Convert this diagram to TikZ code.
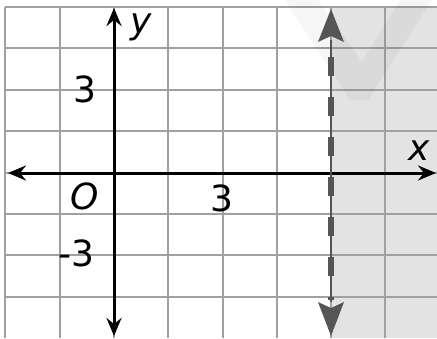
\documentclass[tikz,border=0pt]{standalone}
\usepackage{fontspec}
\setmainfont{DejaVu Sans}
\usetikzlibrary{arrows.meta}
\definecolor{gridc}{HTML}{A0A0A0}
\definecolor{shadec}{HTML}{E3E3E3}
\definecolor{dashc}{HTML}{555555}
\tikzset{
  gridline/.style={draw=gridc, line width=1.5pt},
  axis/.style={draw=black, line width=3pt, {Stealth[length=18pt,width=15pt,inset=6pt]}-{Stealth[length=18pt,width=15pt,inset=6pt]}},
  bdry/.style={draw=dashc, line width=6pt, dash pattern=on 19pt off 21pt},
  bthin/.style={draw=dashc, line width=1.2pt},
  lbl/.style={font=\fontsize{36}{42}\selectfont, inner sep=0pt},
  wm/.style={fill=black, fill opacity=0.035, draw=none}
}
\begin{document}
\begin{tikzpicture}[x=1pt,y=-1pt]
\useasboundingbox (0,0) rectangle (437,338);
\fill[white] (0,0) rectangle (437,338);
% shaded half-plane x > 6
\fill[shadec] (331,7) rectangle (437,338);
% grid
\foreach \gx in {5,60,114,168,223,277,331,385}
  \draw[gridline] (\gx,7) -- (\gx,338);
\foreach \gy in {7,48,90,131,173,214,255,297}
  \draw[gridline] (5,\gy) -- (437,\gy);
% faint watermark
\fill[wm] (285,0) -- (318,0) -- (362,62) -- (400,0) -- (432,0) -- (368,100) -- (350,100) -- cycle;
% axes
\coordinate (xl) at (8,173);
\coordinate (xr) at (436,173);
\coordinate (yt) at (114,8);
\coordinate (yb) at (114,336);
\draw[axis] (xl) -- (xr);
\draw[axis] (yt) -- (yb);
% boundary x = 6
\coordinate (bt) at (331,9);
\coordinate (bb) at (331,336);
\coordinate (bt2) at (331,40);
\coordinate (bb2) at (331,302);
\draw[bthin] (bt2) -- (bb2);
\draw[bdry] (331,57) -- (331,300);
\draw[draw=none, fill=dashc] (bt) -- (344,42) -- (331,36) -- (318,42) -- cycle;
\draw[draw=none, fill=dashc] (bb) -- (344,302) -- (331,308) -- (318,302) -- cycle;
% labels
\node[lbl] (ylab) at (141,27) {\itshape y};
\node[lbl] (xlab) at (419,151) {\itshape x};
\node[lbl] (olab) at (85,196) {\itshape O};
\node[lbl] (y3) at (85,89) {3};
\node[lbl] (ym3) at (76,253) {-3};
\node[lbl] (x3) at (222,198) {3};
\end{tikzpicture}
\end{document}
